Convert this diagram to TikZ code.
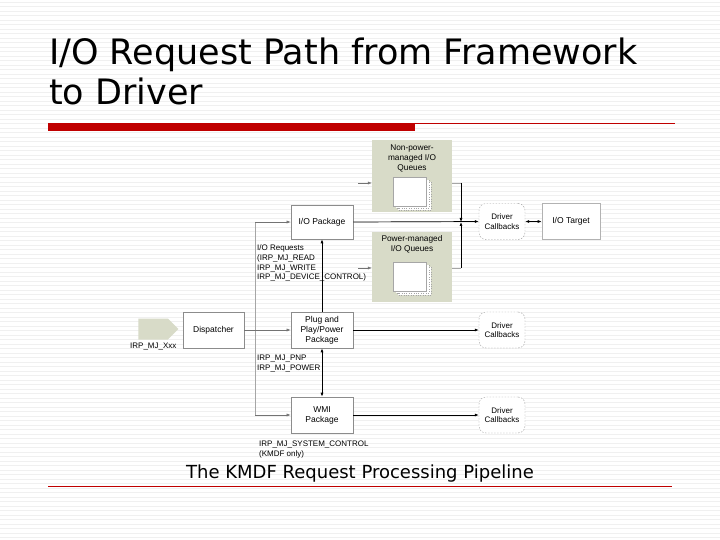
\documentclass[tikz,border=0pt]{standalone}
\usepackage{fontspec}
\setmainfont{Liberation Sans}
\newfontfamily\titlefont{DejaVu Sans}
\usetikzlibrary{arrows.meta,shapes.arrows}
\definecolor{qgreen}{HTML}{D8DBC8}
\definecolor{slred}{HTML}{C00000}
\begin{document}
\begin{tikzpicture}[x=1pt,y=-1pt,
  stripe/.style={draw=black!6,line width=0.8pt},
  pkg/.style={draw=black!45,fill=white,line width=0.6pt,minimum width=62pt,minimum height=36pt,align=center,font=\fontsize{8.5}{10}\selectfont,inner sep=1pt},
  cbk/.style={draw=black!40,dashed,dash pattern=on 1.5pt off 1.5pt,fill=white,rounded corners=7pt,minimum width=46pt,minimum height=36pt,align=center,font=\fontsize{8}{9.5}\selectfont,inner sep=0pt},
  queue/.style={fill=qgreen,draw=none,inner sep=0pt},
  qtext/.style={align=center,font=\fontsize{8.3}{10}\selectfont,inner sep=0pt,anchor=north},
  lbl/.style={align=left,font=\fontsize{8}{9.6}\selectfont,inner sep=0pt,anchor=north west},
  arr/.style={-{Latex[length=4pt,width=3pt]},line width=0.7pt},
  garr/.style={-{Latex[length=4pt,width=3pt]},line width=0.5pt,draw=black!55},
  darr/.style={{Latex[length=4pt,width=3pt]}-{Latex[length=4pt,width=3pt]},line width=0.7pt},
  ln/.style={line width=0.7pt},
  gln/.style={line width=0.5pt,draw=black!35},
  page/.style={draw=black!35,fill=white,line width=0.4pt}
]
\useasboundingbox (0,0) rectangle (720,540);
\fill[white] (0,0) rectangle (720,540);
\foreach \yy in {2,6.5,...,540} \draw[stripe] (0,\yy) -- (720,\yy);

% title
\node[anchor=base west,inner sep=0pt,font=\titlefont\fontsize{35}{42}\selectfont] (title1) at (49,65) {I/O Request Path from Framework};
\node[anchor=base west,inner sep=0pt,font=\titlefont\fontsize{35}{42}\selectfont] (title2) at (49,105) {to Driver};
\fill[slred] (48,123) rectangle (415,131.5);
\draw[slred,line width=0.8pt] (415,123.5) -- (675,123.5);

% queues
\node[queue,minimum width=80pt,minimum height=72pt] (npq) at (412,176) {};
\node[qtext] (npqt) at (412,145) {Non-power-\\managed I/O\\Queues};
\node[queue,minimum width=80pt,minimum height=70pt] (pq) at (412,267) {};
\node[qtext] (pqt) at (412,235) {Power-managed\\I/O Queues};
\foreach \q/\t in {npq/177,pq/262}{
  \draw[page,dotted] (398,\t+5) rectangle (431,\t+33);
  \draw[page,dotted] (396,\t+3) rectangle (429,\t+31);
  \draw[page] (393,\t) rectangle (426,\t+29);
}

% packages
\node[pkg,minimum height=34pt] (iopkg) at (322,222) {I/O Package};
\node[pkg] (pnp) at (322,330) {Plug and\\Play/Power\\Package};
\node[pkg] (wmi) at (322,415) {WMI\\Package};
\node[pkg,minimum width=61pt] (disp) at (213.5,330) {Dispatcher};

% callbacks and target
\node[cbk] (cb1) at (502,221.5) {Driver\\Callbacks};
\node[cbk] (cb2) at (502,330) {Driver\\Callbacks};
\node[cbk] (cb3) at (502,415) {Driver\\Callbacks};
\node[pkg,draw=black!30,minimum width=58pt] (iot) at (571,221.5) {I/O Target};

% input arrow
\node[single arrow,fill=qgreen,draw=none,minimum height=40pt,minimum width=21pt,single arrow head extend=0pt,single arrow tip angle=90,inner sep=0pt] (inarr) at (153,329) {};
\node[lbl] (inlbl) at (130,343) {IRP\_MJ\_Xxx};

% labels
\node[lbl] (ioreq) at (257,245) {I/O Requests\\(IRP\_MJ\_READ\\IRP\_MJ\_WRITE\\IRP\_MJ\_DEVICE\_CONTROL)};
\node[lbl] (pnplbl) at (257,355) {IRP\_MJ\_PNP\\IRP\_MJ\_POWER};
\node[lbl] (wmilbl) at (259,441) {IRP\_MJ\_SYSTEM\_CONTROL\\(KMDF only)};

% connectors
\coordinate (busT) at (255,222);
\coordinate (busB) at (255,415);
\draw[gln] (busT) -- (busB);
\draw[garr] (disp.east) -- (pnp.west);
\draw[garr] (busT) -- (iopkg.west);
\draw[garr] (busB) -- (wmi.west);
\draw[arr] (pnp.north) -- (iopkg.south);
\draw[darr] (pnp.south) -- (wmi.north);
\draw[arr] (iopkg.east) -- (cb1.west);
\coordinate (jn) at (461,222);
\coordinate (npqin) at (358,183);
\coordinate (pqin) at (358,268);
\draw[garr] (npqin) -- (npq.west |- npqin);
\draw[garr] (pqin) -- (pq.west |- pqin);
\draw[gln] (npq.east |- npqin) -- (461,183);
\draw[arr] (461,183) -- (jn);
\draw[gln] (pq.east |- pqin) -- (461,268);
\draw[arr] (461,268) -- (jn);
\draw[darr] (cb1.east) -- (iot.west);
\draw[arr] (pnp.east) -- (cb2.west);
\draw[arr] (wmi.east) -- (cb3.west);

% caption
\node[inner sep=0pt,anchor=base,font=\titlefont\fontsize{18}{21}\selectfont] (caption) at (360,478) {The KMDF Request Processing Pipeline};
\draw[slred,line width=0.6pt] (48,486) -- (672,486);
\end{tikzpicture}
\end{document}
